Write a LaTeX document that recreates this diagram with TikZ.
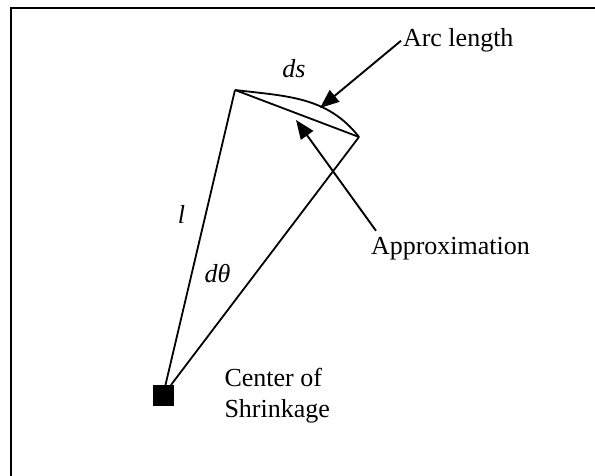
\documentclass[tikz,border=0pt]{standalone}
\usepackage{fontspec}
\setmainfont{Liberation Serif}
\usetikzlibrary{arrows.meta,positioning}

\begin{document}
\begin{tikzpicture}[x=1bp, y=1bp, line width=1.8bp,
    every node/.style={inner sep=0pt, outer sep=0pt, font=\fontsize{26bp}{31bp}\selectfont},
    freccia/.style={-{Triangle[length=19bp, width=15bp]}, line width=1.9bp}]
    \useasboundingbox (0,0) rectangle (595,476);
    %cornice
    \draw[line width=2.4bp] (11,0) -- (11,468) -- (595,468);
    %centro
    \node[fill=black, minimum size=21bp] (centro) at (163,80.5) {};
    \node[right=51bp of centro, align=left] (testo) {Center of\\Shrinkage};
    %settore
    \coordinate (a) at (235,386);
    \coordinate (b) at (359,339);
    \draw (centro) -- (a);
    \draw (centro) -- (b);
    \draw (a) to[out=-7, in=128] (b);
    \draw (a) -- (b);
    %etichette
    \node (ds) at (294,407) {\textit{ds}};
    \node (elle) at (181.5,262) {\textit{l}};
    \node (dteta) at (217.5,202.7) {\textit{dθ}};
    \node[anchor=base west] (arco) at (403,429) {Arc length};
    \node[anchor=base west] (approx) at (371,221) {Approximation};
    %frecce
    \coordinate (puntaarco) at (320,368);
    \coordinate (puntacorda) at (296,356);
    \draw[freccia] ([xshift=-2bp]arco.west) -- (puntaarco);
    \draw[freccia] ([shift={(5bp,7bp)}]approx.north west) -- (puntacorda);
\end{tikzpicture}
\end{document}
